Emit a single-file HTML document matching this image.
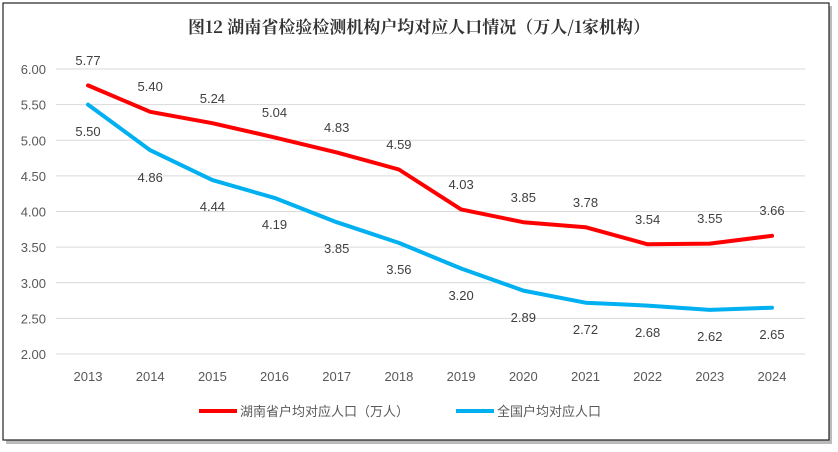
<!DOCTYPE html>
<html><head><meta charset="utf-8"><style>
body{margin:0;background:#fff;}
svg{display:block;font-family:"Liberation Sans","Noto Sans CJK SC",sans-serif;}
</style></head><body>
<svg width="838" height="452" viewBox="0 0 838 452">
<rect x="6" y="6" width="826" height="438" fill="#bbb"/>
<rect x="3" y="3" width="826" height="437" fill="#fff" stroke="#222" stroke-width="1.2"/>
<text x="419" y="33" text-anchor="middle" font-size="17" font-weight="bold" font-family="'Noto Serif CJK SC','Liberation Serif',serif" fill="#333">图12 湖南省检验检测机构户均对应人口情况（万人/1家机构）</text>
<g stroke="#d9d9d9" stroke-width="1">
<line x1="56" x2="805" y1="69" y2="69"/><line x1="56" x2="805" y1="104.6" y2="104.6"/>
<line x1="56" x2="805" y1="140.3" y2="140.3"/><line x1="56" x2="805" y1="175.9" y2="175.9"/>
<line x1="56" x2="805" y1="211.5" y2="211.5"/><line x1="56" x2="805" y1="247.1" y2="247.1"/>
<line x1="56" x2="805" y1="282.8" y2="282.8"/><line x1="56" x2="805" y1="318.4" y2="318.4"/>
<line x1="56" x2="805" y1="354" y2="354"/>
</g>
<g font-size="13" fill="#595959" text-anchor="end">
<text x="46" y="74">6.00</text><text x="46" y="109.6">5.50</text><text x="46" y="145.3">5.00</text>
<text x="46" y="180.9">4.50</text><text x="46" y="216.5">4.00</text><text x="46" y="252.1">3.50</text>
<text x="46" y="287.8">3.00</text><text x="46" y="323.4">2.50</text><text x="46" y="359">2.00</text>
</g>
<g font-size="13" fill="#595959" text-anchor="middle">
<text x="88" y="381">2013</text><text x="150.2" y="381">2014</text><text x="212.4" y="381">2015</text>
<text x="274.5" y="381">2016</text><text x="336.7" y="381">2017</text><text x="398.9" y="381">2018</text>
<text x="461.1" y="381">2019</text><text x="523.3" y="381">2020</text><text x="585.5" y="381">2021</text>
<text x="647.6" y="381">2022</text><text x="709.8" y="381">2023</text><text x="772" y="381">2024</text>
</g>
<polyline fill="none" stroke="#ff0000" stroke-width="4" stroke-linejoin="round" stroke-linecap="round"
points="88,85.4 150.2,111.8 212.4,123.2 274.5,137.4 336.7,152.4 398.9,169.5 461.1,209.4 523.3,222.2 585.5,227.2 647.6,244.3 709.8,243.6 772,235.8"/>
<polyline fill="none" stroke="#00b0f0" stroke-width="4" stroke-linejoin="round" stroke-linecap="round"
points="88,104.6 150.2,150.2 212.4,180.1 274.5,197.9 336.7,222.2 398.9,242.9 461.1,268.5 523.3,290.6 585.5,302.7 647.6,305.6 709.8,309.9 772,307.7"/>
<g font-size="13" fill="#404040" text-anchor="middle">
<text x="88" y="65">5.77</text><text x="150.2" y="91">5.40</text><text x="212.4" y="103">5.24</text>
<text x="274.5" y="117">5.04</text><text x="336.7" y="132">4.83</text><text x="398.9" y="149">4.59</text>
<text x="461.1" y="189">4.03</text><text x="523.3" y="202">3.85</text><text x="585.5" y="207">3.78</text>
<text x="647.6" y="224">3.54</text><text x="709.8" y="223">3.55</text><text x="772" y="215">3.66</text>
<text x="88" y="136">5.50</text><text x="150.2" y="182">4.86</text><text x="212.4" y="211">4.44</text>
<text x="274.5" y="229">4.19</text><text x="336.7" y="253">3.85</text><text x="398.9" y="274">3.56</text>
<text x="461.1" y="300">3.20</text><text x="523.3" y="322">2.89</text><text x="585.5" y="334">2.72</text>
<text x="647.6" y="337">2.68</text><text x="709.8" y="341">2.62</text><text x="772" y="339">2.65</text>
</g>
<line x1="199" x2="237" y1="411" y2="411" stroke="#ff0000" stroke-width="4"/>
<text x="240" y="416" font-size="13" fill="#595959">湖南省户均对应人口（万人）</text>
<line x1="456" x2="494" y1="411" y2="411" stroke="#00b0f0" stroke-width="4"/>
<text x="497" y="416" font-size="13" fill="#595959">全国户均对应人口</text>
</svg>
</body></html>
